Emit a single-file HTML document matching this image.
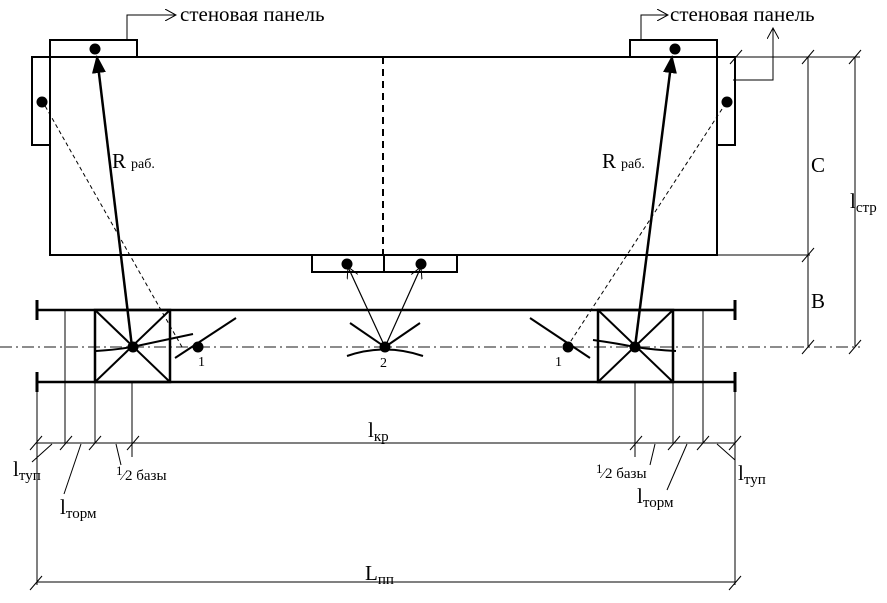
<!DOCTYPE html>
<html><head><meta charset="utf-8"><style>
html,body{margin:0;padding:0;background:#fff;}
svg{display:block;font-family:"Liberation Serif",serif;}
</style></head><body>
<svg width="887" height="603" viewBox="0 0 887 603" xmlns="http://www.w3.org/2000/svg">
<defs>
<marker id="big" markerWidth="18" markerHeight="14" refX="16" refY="7" orient="auto" markerUnits="userSpaceOnUse"><path d="M0,0 L18,7 L0,14 Z" fill="#000"/></marker>
<marker id="open" markerWidth="12" markerHeight="12" refX="11" refY="6" orient="auto" markerUnits="userSpaceOnUse"><path d="M0,0 L11,6 L0,12" fill="none" stroke="#000" stroke-width="1"/></marker>
</defs>
<g fill="none" stroke="#000">
<rect x="50" y="57" width="667" height="198" stroke-width="2"/>
<line x1="717" y1="57" x2="860" y2="57" stroke-width="1"/>
<line x1="717" y1="255" x2="810" y2="255" stroke-width="1"/>
<line x1="383" y1="57" x2="383" y2="255" stroke-width="2" stroke-dasharray="7,5"/>
<rect x="50" y="40" width="87" height="17" stroke-width="2"/>
<rect x="32" y="57" width="18" height="88" stroke-width="2"/>
<rect x="630" y="40" width="87" height="17" stroke-width="2"/>
<rect x="717" y="57" width="18" height="88" stroke-width="2"/>
<rect x="312" y="255" width="145" height="17" stroke-width="2"/>
<line x1="384" y1="255" x2="384" y2="272" stroke-width="2"/>
<polyline points="127,40 127,15 176,15" stroke-width="1" marker-end="url(#open)"/>
<polyline points="641,40 641,15 668,15" stroke-width="1" marker-end="url(#open)"/>
<polyline points="733,80 773,80 773,28" stroke-width="1" marker-end="url(#open)"/>
<line x1="37" y1="310" x2="735" y2="310" stroke-width="2.5"/>
<line x1="37" y1="382" x2="735" y2="382" stroke-width="2.5"/>
<line x1="37" y1="300" x2="37" y2="320" stroke-width="3"/>
<line x1="735" y1="300" x2="735" y2="320" stroke-width="3"/>
<line x1="37" y1="372" x2="37" y2="392" stroke-width="3"/>
<line x1="735" y1="372" x2="735" y2="392" stroke-width="3"/>
<line x1="0" y1="347" x2="860" y2="347" stroke="#666" stroke-width="1.5" stroke-dasharray="12,4,2,4"/>
<rect x="95" y="310" width="75" height="72" stroke-width="2.5"/>
<line x1="95" y1="310" x2="170" y2="382" stroke-width="2"/>
<line x1="170" y1="310" x2="95" y2="382" stroke-width="2"/>
<rect x="598" y="310" width="75" height="72" stroke-width="2.5"/>
<line x1="598" y1="310" x2="673" y2="382" stroke-width="2"/>
<line x1="673" y1="310" x2="598" y2="382" stroke-width="2"/>
<path d="M96,351 Q115,350 132,347 Q165,340 193,334" stroke-width="2"/>
<path d="M593,340 Q615,343 635,347 Q655,350 676,351" stroke-width="2"/>
<line x1="175" y1="358" x2="236" y2="318" stroke-width="2"/>
<line x1="530" y1="318" x2="590" y2="358" stroke-width="2"/>
<line x1="350" y1="323" x2="385" y2="347" stroke-width="2"/>
<line x1="420" y1="323" x2="385" y2="347" stroke-width="2"/>
<path d="M347,356 Q385,343 423,356" stroke-width="2"/>
<line x1="132" y1="347" x2="97" y2="57" stroke-width="2.5" marker-end="url(#big)"/>
<line x1="635" y1="347" x2="672" y2="57" stroke-width="2.5" marker-end="url(#big)"/>
<line x1="182" y1="347" x2="44" y2="104" stroke-width="1" stroke-dasharray="4,3"/>
<line x1="567" y1="347" x2="724" y2="106" stroke-width="1" stroke-dasharray="4,3"/>
<line x1="385" y1="347" x2="348" y2="267" stroke-width="1.2" marker-end="url(#open)"/>
<line x1="385" y1="347" x2="421" y2="267" stroke-width="1.2" marker-end="url(#open)"/>
<line x1="808" y1="57" x2="808" y2="347" stroke-width="1"/>
<line x1="855" y1="57" x2="855" y2="347" stroke-width="1"/>
<g stroke-width="1">
<line x1="730" y1="64" x2="742" y2="50"/>
<line x1="802" y1="64" x2="814" y2="50"/>
<line x1="849" y1="64" x2="861" y2="50"/>
<line x1="802" y1="262" x2="814" y2="248"/>
<line x1="802" y1="354" x2="814" y2="340"/>
<line x1="849" y1="354" x2="861" y2="340"/>
</g>
<g stroke-width="1">
<line x1="37" y1="382" x2="37" y2="585"/>
<line x1="735" y1="382" x2="735" y2="585"/>
<line x1="65" y1="310" x2="65" y2="443"/>
<line x1="703" y1="310" x2="703" y2="443"/>
<line x1="95" y1="382" x2="95" y2="443"/>
<line x1="673" y1="382" x2="673" y2="443"/>
<line x1="132" y1="382" x2="132" y2="457"/>
<line x1="635" y1="382" x2="635" y2="457"/>
<line x1="37" y1="443" x2="735" y2="443"/>
<line x1="37" y1="582" x2="735" y2="582"/>
<line x1="30" y1="450" x2="42" y2="436"/>
<line x1="60" y1="450" x2="72" y2="436"/>
<line x1="89" y1="450" x2="101" y2="436"/>
<line x1="127" y1="450" x2="139" y2="436"/>
<line x1="630" y1="450" x2="642" y2="436"/>
<line x1="668" y1="450" x2="680" y2="436"/>
<line x1="697" y1="450" x2="709" y2="436"/>
<line x1="729" y1="450" x2="741" y2="436"/>
<line x1="30" y1="590" x2="42" y2="576"/>
<line x1="729" y1="590" x2="741" y2="576"/>
<line x1="52" y1="444" x2="32" y2="462"/>
<line x1="81" y1="444" x2="64" y2="494"/>
<line x1="116" y1="444" x2="121" y2="465"/>
<line x1="655" y1="444" x2="650" y2="465"/>
<line x1="687" y1="444" x2="667" y2="490"/>
<line x1="717" y1="444" x2="735" y2="460"/>
</g>
</g>
<g fill="#000">
<circle cx="95" cy="49" r="5.5"/><circle cx="675" cy="49" r="5.5"/>
<circle cx="42" cy="102" r="5.5"/><circle cx="727" cy="102" r="5.5"/>
<circle cx="347" cy="264" r="5.5"/><circle cx="421" cy="264" r="5.5"/>
<circle cx="133" cy="347" r="5.5"/><circle cx="635" cy="347" r="5.5"/>
<circle cx="198" cy="347" r="5.5"/><circle cx="568" cy="347" r="5.5"/>
<circle cx="385" cy="347" r="5.5"/>
</g>
<g fill="#000" font-size="21">
<text x="180" y="21">стеновая панель</text>
<text x="670" y="21">стеновая панель</text>
<text x="112" y="168">R<tspan font-size="14" dx="5">раб.</tspan></text>
<text x="602" y="168">R<tspan font-size="14" dx="5">раб.</tspan></text>
<text x="811" y="172">C</text>
<text x="850" y="208">l<tspan font-size="15" dy="4">стр</tspan></text>
<text x="811" y="308">B</text>
<text x="368" y="437">l<tspan font-size="15" dy="4">кр</tspan></text>
<text x="365" y="580">L<tspan font-size="15" dy="4">пп</tspan></text>
<text x="13" y="476">l<tspan font-size="15" dy="4">туп</tspan></text>
<text x="60" y="514">l<tspan font-size="15" dy="4">торм</tspan></text>
<text x="738" y="480">l<tspan font-size="15" dy="4">туп</tspan></text>
<text x="637" y="503">l<tspan font-size="15" dy="4">торм</tspan></text>
</g>
<g fill="#000" font-size="15">
<text x="116" y="480"><tspan font-size="13" dy="-5">1</tspan><tspan dy="5">⁄2</tspan> базы</text>
<text x="596" y="478"><tspan font-size="13" dy="-5">1</tspan><tspan dy="5">⁄2</tspan> базы</text>
<text x="198" y="366" font-size="14">1</text>
<text x="555" y="366" font-size="14">1</text>
<text x="380" y="367" font-size="14">2</text>
</g>
</svg>
</body></html>
